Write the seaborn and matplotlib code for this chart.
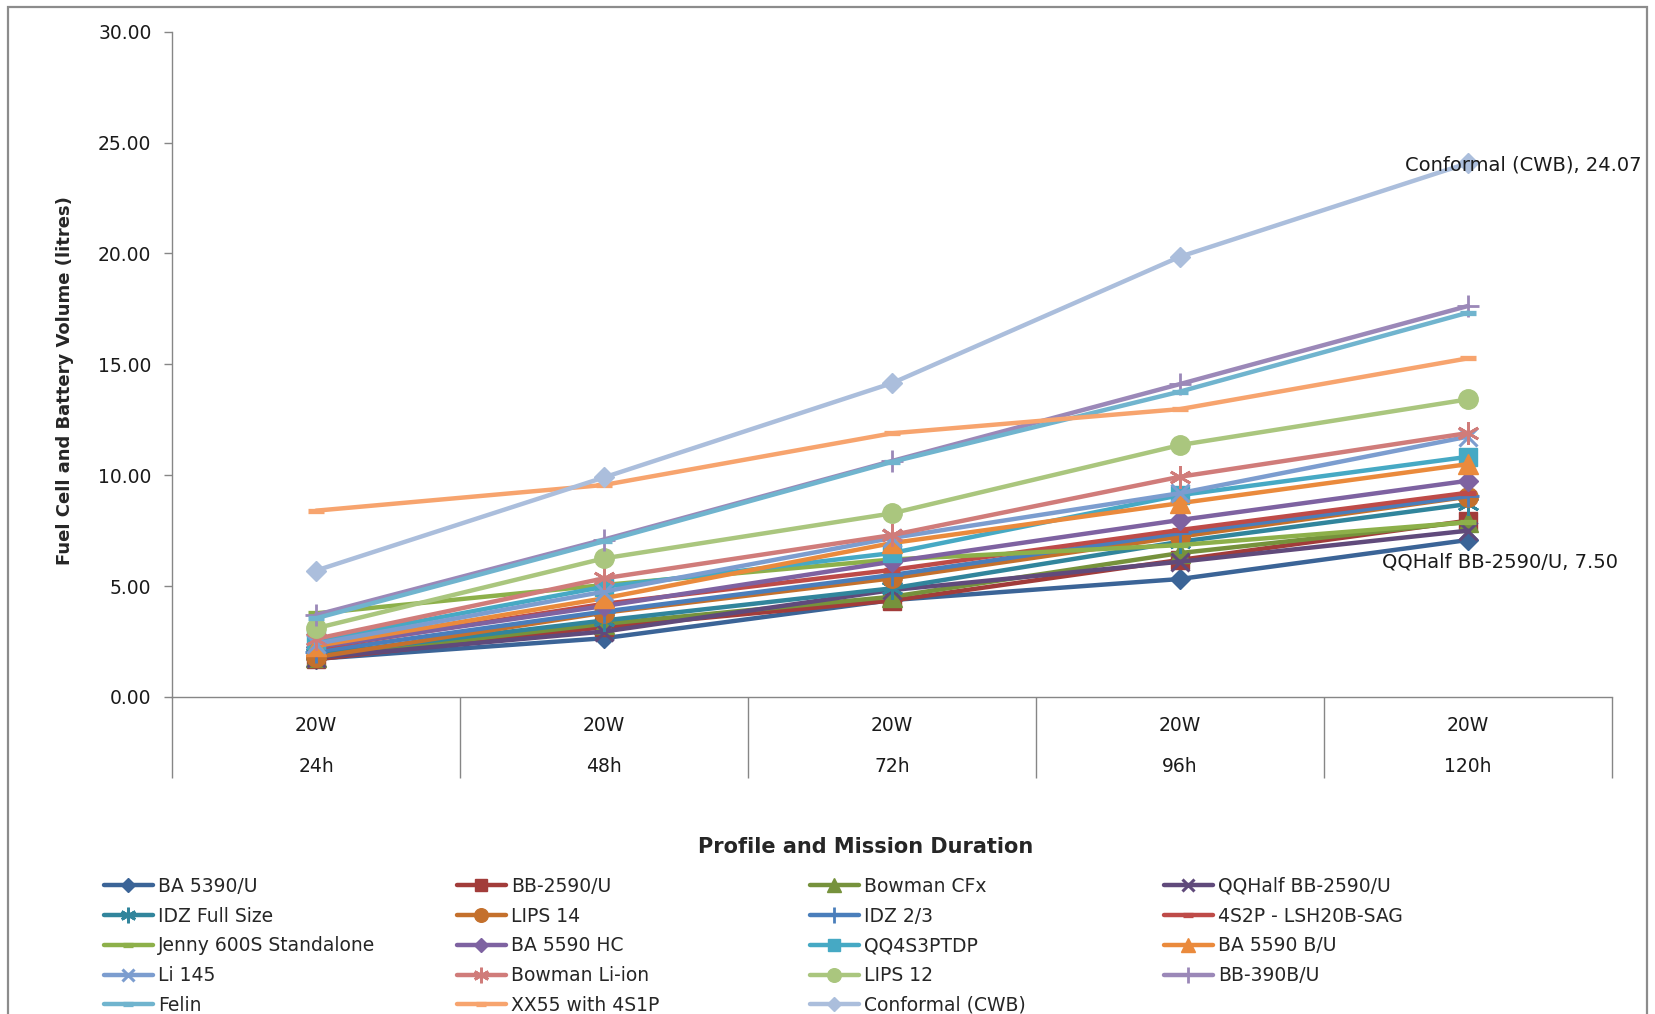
import numpy as np
import pandas as pd
import matplotlib
matplotlib.use("Agg")
import matplotlib.pyplot as plt
import matplotlib.transforms as mtransforms
from matplotlib.patches import Rectangle
import seaborn as sns

# ---- data -------------------------------------------------------------
power_levels = ["20W", "20W", "20W", "20W", "20W"]
durations = ["24h", "48h", "72h", "96h", "120h"]

ba_5390_u = [1.72, 2.65, 4.37, 5.32, 7.08]
bb_2590_u = [1.70, 3.15, 4.35, 6.18, 7.95]
bowman_cfx = [1.80, 3.30, 4.52, 6.49, 7.90]
qqhalf_bb_2590_u = [1.78, 2.95, 4.82, 6.10, 7.50]
idz_full_size = [1.92, 3.45, 4.90, 7.00, 8.70]
lips_14 = [1.80, 3.80, 5.35, 7.23, 9.03]
idz_2_3 = [2.05, 3.85, 5.50, 7.39, 9.05]
s4p2_lsh20b_sag = [2.20, 4.20, 5.73, 7.53, 9.21]
jenny_600s = [3.77, 5.05, 6.20, 6.85, 7.88]
ba_5590_hc = [2.25, 4.10, 6.10, 7.98, 9.75]
qq4s3ptdp = [2.55, 4.97, 6.49, 9.10, 10.83]
ba_5590_bu = [2.30, 4.45, 6.94, 8.74, 10.50]
li_145 = [2.40, 4.75, 7.17, 9.19, 11.74]
bowman_li_ion = [2.62, 5.35, 7.30, 9.93, 11.90]
lips_12 = [3.10, 6.25, 8.28, 11.36, 13.42]
bb_390b_u = [3.70, 7.10, 10.64, 14.11, 17.63]
felin = [3.55, 7.02, 10.60, 13.77, 17.33]
xx55_4s1p = [8.40, 9.56, 11.89, 12.98, 15.27]
conformal_cwb = [5.70, 9.90, 14.15, 19.85, 24.07]

series = {
    "BA 5390/U": ba_5390_u,
    "BB-2590/U": bb_2590_u,
    "Bowman CFx": bowman_cfx,
    "QQHalf BB-2590/U": qqhalf_bb_2590_u,
    "IDZ Full Size": idz_full_size,
    "LIPS 14": lips_14,
    "IDZ 2/3": idz_2_3,
    "4S2P - LSH20B-SAG": s4p2_lsh20b_sag,
    "Jenny 600S Standalone": jenny_600s,
    "BA 5590 HC": ba_5590_hc,
    "QQ4S3PTDP": qq4s3ptdp,
    "BA 5590 B/U": ba_5590_bu,
    "Li 145": li_145,
    "Bowman Li-ion": bowman_li_ion,
    "LIPS 12": lips_12,
    "BB-390B/U": bb_390b_u,
    "Felin": felin,
    "XX55 with 4S1P": xx55_4s1p,
    "Conformal (CWB)": conformal_cwb,
}
labelled_series = ["Conformal (CWB)", "QQHalf BB-2590/U"]

# ---- styles -----------------------------------------------------------
ASTER = (6, 2, 0)
styles = {
    "BA 5390/U": dict(color="#3B6497", marker="D", ms=10, mew=1),
    "BB-2590/U": dict(color="#A23C3A", marker="s", ms=13, mew=1),
    "Bowman CFx": dict(color="#76923C", marker="^", ms=14, mew=1),
    "QQHalf BB-2590/U": dict(color="#604A7B", marker="x", ms=13, mew=2.2),
    "IDZ Full Size": dict(color="#31859C", marker=ASTER, ms=16, mew=2.0),
    "LIPS 14": dict(color="#C4702C", marker="o", ms=14, mew=1),
    "IDZ 2/3": dict(color="#4A7EBB", marker="+", ms=16, mew=2.0),
    "4S2P - LSH20B-SAG": dict(color="#BE4B48", marker="_", ms=11, mew=3.8),
    "Jenny 600S Standalone": dict(color="#8DB04A", marker="_", ms=11, mew=3.8),
    "BA 5590 HC": dict(color="#7E62A1", marker="D", ms=10, mew=1),
    "QQ4S3PTDP": dict(color="#46A9C4", marker="s", ms=13, mew=1),
    "BA 5590 B/U": dict(color="#EA8A3C", marker="^", ms=14, mew=1),
    "Li 145": dict(color="#7C9DCF", marker="x", ms=13, mew=2.2),
    "Bowman Li-ion": dict(color="#D07C7A", marker=ASTER, ms=16, mew=2.0),
    "LIPS 12": dict(color="#AAC67E", marker="o", ms=14, mew=1),
    "BB-390B/U": dict(color="#9B88B8", marker="+", ms=16, mew=2.0),
    "Felin": dict(color="#70B4CE", marker="_", ms=11, mew=3.8),
    "XX55 with 4S1P": dict(color="#F7A46E", marker="_", ms=11, mew=3.8),
    "Conformal (CWB)": dict(color="#ABBEDC", marker="D", ms=10, mew=1),
}

GRAY = "#868686"
FS = 13.5
W, H = 1655, 1014

df = pd.DataFrame({
    "pos": np.tile(np.arange(len(durations)), len(series)),
    "volume": np.concatenate([series[k] for k in series]),
    "series": np.repeat(list(series.keys()), len(durations)),
})

sns.set_style("white")
plt.rcParams["font.family"] = ["DejaVu Sans"]

fig = plt.figure(figsize=(W / 100, H / 100), dpi=100)
ax = fig.add_axes([172 / W, 1 - 697 / H, (1612 - 172) / W, (697 - 31.6) / H])

for name in series:
    st = styles[name]
    sub = df[df["series"] == name]
    sns.lineplot(data=sub, x="pos", y="volume", ax=ax, color=st["color"],
                 lw=3.2, marker=st["marker"], markersize=st["ms"],
                 markeredgecolor=st["color"], markerfacecolor=st["color"],
                 markeredgewidth=st["mew"], label=name, errorbar=None,
                 sort=False)

if ax.get_legend() is not None:
    ax.get_legend().remove()

# data labels
for name in labelled_series:
    vals = series[name]
    x_last = len(vals) - 1
    if name == "Conformal (CWB)":
        offset = (125, -1.5)
    else:
        offset = (108, -22.3)
    ax.annotate(f"{name}, {vals[-1]:.2f}", xy=(x_last, vals[-1]),
                xytext=offset, textcoords="offset points",
                ha="right", va="center", fontsize=14, color="#1a1a1a")

# axes styling
ax.set_xlim(-0.5, len(durations) - 0.5)
ax.set_ylim(0, 30)
ax.set_yticks(np.arange(0, 31, 5))
ax.yaxis.set_major_formatter(matplotlib.ticker.FormatStrFormatter("%.2f"))
ax.set_xticks(np.arange(len(durations)))
ax.set_xticklabels(power_levels)
ax.set_xticks(np.arange(-0.5, len(durations), 1), minor=True)
ax.tick_params(axis="y", which="major", length=5.8, width=1, color=GRAY,
               direction="out", pad=9, labelsize=FS, labelcolor="#1a1a1a", left=True)
ax.tick_params(axis="x", which="major", length=0, pad=13.5, labelsize=FS,
               labelcolor="#1a1a1a", bottom=True)
ax.tick_params(axis="x", which="minor", length=58.3, width=1, color=GRAY,
               direction="out", bottom=True)
for side in ("top", "right"):
    ax.spines[side].set_visible(False)
for side in ("left", "bottom"):
    ax.spines[side].set_color(GRAY)
    ax.spines[side].set_linewidth(1)
ax.set_xlabel("")
ax.set_ylabel("")
ax.grid(False)

trans = mtransforms.blended_transform_factory(ax.transData, ax.transAxes)
for i, d in enumerate(durations):
    ax.text(i, -0.104, d, transform=trans, ha="center", va="center",
            fontsize=FS, color="#1a1a1a")

# axis titles
fig.text(65 / W, 1 - 381 / H, "Fuel Cell and Battery Volume (litres)",
         rotation=90, ha="center", va="center", fontsize=13, fontweight="bold")
fig.text(866 / W, 1 - 847 / H, "Profile and Mission Duration",
         ha="center", va="center", fontsize=15, fontweight="bold")

# legend, laid out row by row in four columns
handles = {l.get_label(): l for l in ax.get_lines()}
names = list(series.keys())
col_x = [104, 457, 810, 1164]
for c in range(4):
    col_names = names[c::4]
    fig.legend([handles[n] for n in col_names], col_names, loc="upper left",
               bbox_to_anchor=(col_x[c] / W, 1 - 877 / H), frameon=False,
               borderpad=0, borderaxespad=0, handlelength=2.6,
               handletextpad=0.3, labelspacing=0.57, fontsize=FS,
               markerscale=0.7)

# chart frame
fig.add_artist(Rectangle((8 / W, -0.02), (1647 - 8) / W, 1 - 7 / H + 0.02,
                         transform=fig.transFigure, fill=False, ec="#8C8C8C",
                         lw=1.6))

fig.savefig("out.png", dpi=100)
